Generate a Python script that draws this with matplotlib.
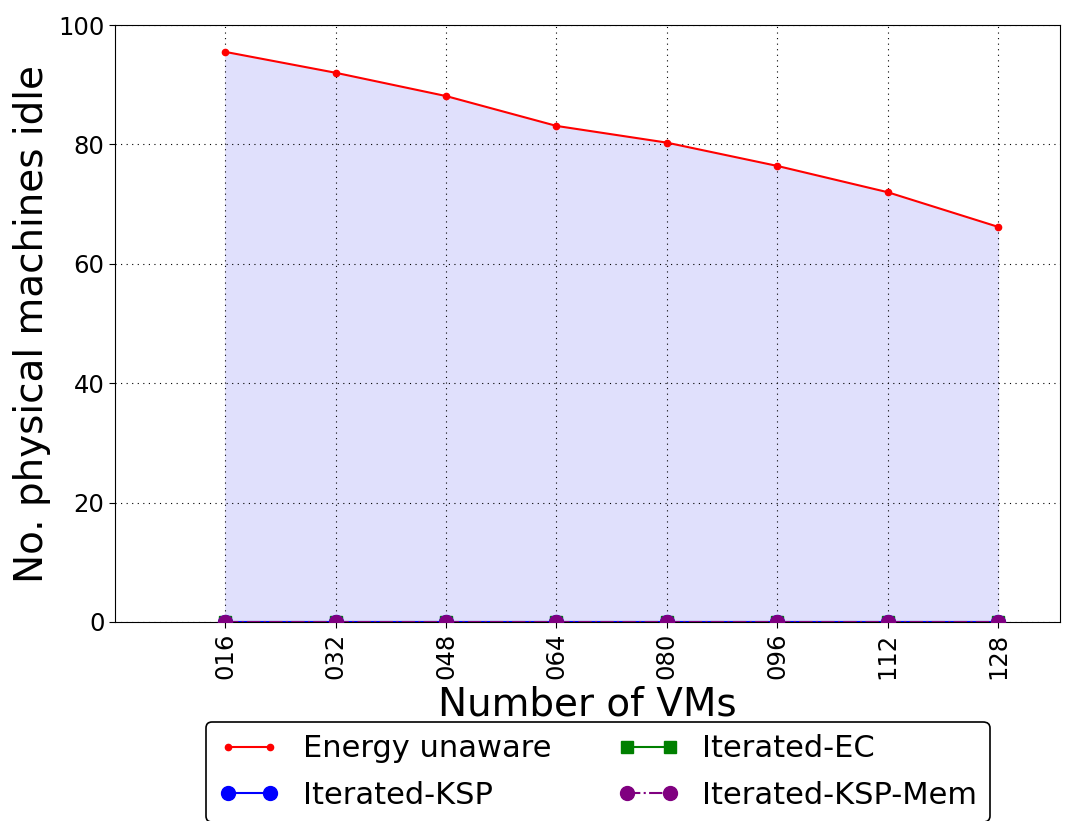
import matplotlib
matplotlib.use("Agg")
import matplotlib.pyplot as plt

# Number of VMs and idle physical machines per strategy
vms = [16, 32, 48, 64, 80, 96, 112, 128]
vm_labels = ["016", "032", "048", "064", "080", "096", "112", "128"]
energy_unaware = [95.5, 92.0, 88.1, 83.1, 80.3, 76.4, 72.0, 66.2]
iterated_ec = [0, 0, 0, 0, 0, 0, 0, 0]
iterated_ksp = [0, 0, 0, 0, 0, 0, 0, 0]
iterated_ksp_mem = [0, 0, 0, 0, 0, 0, 0, 0]

plt.rcParams["font.family"] = ["DejaVu Sans"]

fig = plt.figure(figsize=(10.7, 8.21), dpi=100, facecolor="white")
ax = fig.add_axes([0.1075, 0.2424, 0.8832, 0.7271])

ax.fill_between(vms, energy_unaware, 0, color="#e0e0fc", zorder=1)
l_eu, = ax.plot(vms, energy_unaware, color="red", marker=".", markersize=9,
                linewidth=1.5, label="Energy unaware", zorder=3)
l_ec, = ax.plot(vms, iterated_ec, color="green", marker="s", markersize=9,
                linewidth=1.5, label="Iterated-EC", zorder=3)
l_ksp, = ax.plot(vms, iterated_ksp, color="blue", marker="o", markersize=10,
                 linewidth=1.5, label="Iterated-KSP", zorder=3)
l_mem, = ax.plot(vms, iterated_ksp_mem, color="purple", marker="o", markersize=10,
                 linewidth=1.5, linestyle="-.", label="Iterated-KSP-Mem", zorder=3)

ax.set_xlim(0, 137)
ax.set_ylim(0, 100)
ax.set_xticks(vms)
ax.set_xticklabels(vm_labels, rotation=90)
ax.set_yticks([0, 20, 40, 60, 80, 100])
ax.tick_params(axis="both", labelsize=17.5, direction="out", length=4,
               top=False, right=False)
ax.grid(True, color="black", linestyle=(0, (1, 4)), linewidth=0.8, zorder=2)
ax.set_axisbelow(False)

ax.set_xlabel("Number of VMs", fontsize=28, labelpad=5)
ax.set_ylabel("No. physical machines idle", fontsize=28, labelpad=5)

handles = [l_eu, l_ksp, l_ec, l_mem]
leg = ax.legend(handles, [h.get_label() for h in handles],
                loc="upper center", bbox_to_anchor=(0.511, -0.1675), ncol=2,
                fontsize=22, fancybox=True, framealpha=1, edgecolor="black",
                columnspacing=2.2, handlelength=2.0, handletextpad=0.75,
                numpoints=2, borderpad=0.4, labelspacing=0.58,
                borderaxespad=0)
leg.get_frame().set_linewidth(1.2)

fig.savefig("out.png", dpi=100, facecolor="white")
